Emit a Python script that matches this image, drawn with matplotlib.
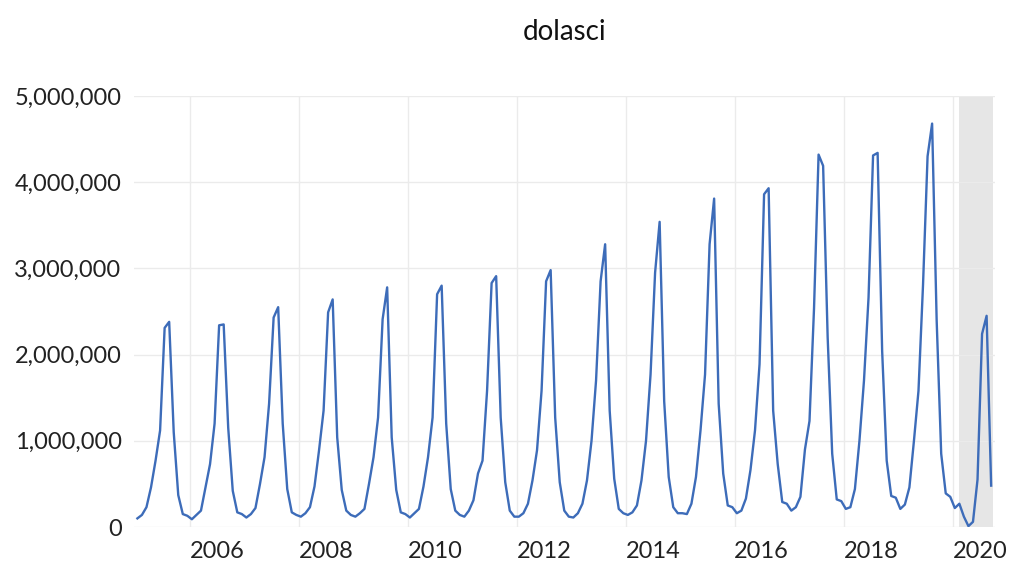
import numpy as np
import matplotlib
matplotlib.use('Agg')
import matplotlib.pyplot as plt
from matplotlib.ticker import FuncFormatter

plt.rcParams['font.family'] = ['Lato', 'DejaVu Sans']

# monthly arrivals (millions), Jan 2005 - Sep 2020
y2005 = [0.10, 0.14, 0.23, 0.46, 0.77, 1.12, 2.31, 2.38, 1.10, 0.37, 0.15, 0.13]
y2006 = [0.09, 0.14, 0.19, 0.46, 0.73, 1.20, 2.34, 2.35, 1.15, 0.42, 0.17, 0.15]
y2007 = [0.11, 0.15, 0.22, 0.50, 0.81, 1.43, 2.43, 2.55, 1.20, 0.44, 0.17, 0.14]
y2008 = [0.12, 0.16, 0.23, 0.47, 0.89, 1.35, 2.49, 2.64, 1.04, 0.43, 0.19, 0.14]
y2009 = [0.12, 0.16, 0.21, 0.50, 0.81, 1.27, 2.41, 2.78, 1.04, 0.43, 0.17, 0.15]
y2010 = [0.11, 0.16, 0.21, 0.47, 0.81, 1.27, 2.70, 2.80, 1.20, 0.44, 0.19, 0.14]
y2011 = [0.12, 0.19, 0.31, 0.62, 0.77, 1.58, 2.83, 2.91, 1.27, 0.52, 0.19, 0.12]
y2012 = [0.12, 0.16, 0.27, 0.54, 0.89, 1.58, 2.85, 2.98, 1.27, 0.52, 0.19, 0.12]
y2013 = [0.11, 0.16, 0.27, 0.54, 1.00, 1.70, 2.85, 3.28, 1.35, 0.56, 0.21, 0.16]
y2014 = [0.14, 0.17, 0.25, 0.54, 1.00, 1.77, 2.95, 3.54, 1.46, 0.58, 0.23, 0.16]
y2015 = [0.16, 0.15, 0.27, 0.58, 1.12, 1.77, 3.28, 3.81, 1.43, 0.62, 0.25, 0.23]
y2016 = [0.16, 0.19, 0.33, 0.66, 1.12, 1.89, 3.86, 3.93, 1.35, 0.73, 0.29, 0.27]
y2017 = [0.19, 0.23, 0.35, 0.90, 1.23, 2.54, 4.32, 4.19, 2.20, 0.85, 0.32, 0.30]
y2018 = [0.21, 0.23, 0.44, 1.00, 1.70, 2.66, 4.31, 4.34, 2.04, 0.77, 0.36, 0.34]
y2019 = [0.21, 0.26, 0.46, 1.00, 1.58, 2.81, 4.30, 4.68, 2.40, 0.85, 0.39, 0.35]
y2020 = [0.22, 0.27, 0.12, 0.01, 0.06, 0.55, 2.24, 2.45, 0.48]

arrivals = np.array(y2005 + y2006 + y2007 + y2008 + y2009 + y2010 + y2011 + y2012
                    + y2013 + y2014 + y2015 + y2016 + y2017 + y2018 + y2019 + y2020) * 1e6
t = 2005 + (np.arange(len(arrivals)) + 0.5) / 12

grid_years = [2006, 2008, 2010, 2012, 2014, 2016, 2018, 2020]
year_labels = ['2006', '2008', '2010', '2012', '2014', '2016', '2018', '2020']
shade = (2020.12, 2020.75)

fig = plt.figure(figsize=(10.1, 5.61), dpi=100)
ax = fig.add_axes([0.1327, 0.0606, 0.8525, 0.7683])

ax.axvspan(shade[0], shade[1], color='#e6e6e6', lw=0, zorder=0)
ax.plot(t, arrivals, color='#3d6cb9', lw=1.7, zorder=3)

ax.set_xlim(2004.98, 2020.78)
ax.set_ylim(0, 5e6)
ax.set_yticks(np.arange(0, 5e6 + 1, 1e6))
ax.yaxis.set_major_formatter(FuncFormatter(lambda v, p: '{:,.0f}'.format(v)))

ax.set_xticks(grid_years)
ax.set_xticklabels([])
ax.set_xticks([y + 0.5 for y in grid_years], minor=True)
ax.set_xticklabels(year_labels, minor=True)

ax.grid(True, which='major', color='#ebebeb', lw=1.0, zorder=1)
ax.tick_params(which='both', length=0, labelsize=17, colors='#222222')
ax.tick_params(axis='y', pad=9)
ax.tick_params(axis='x', which='minor', pad=10)
for s in ax.spines.values():
    s.set_visible(False)

fig.text(0.559, 0.943, 'dolasci', ha='center', va='center', fontsize=20, color='#111111')

fig.savefig('out.png', dpi=100)
